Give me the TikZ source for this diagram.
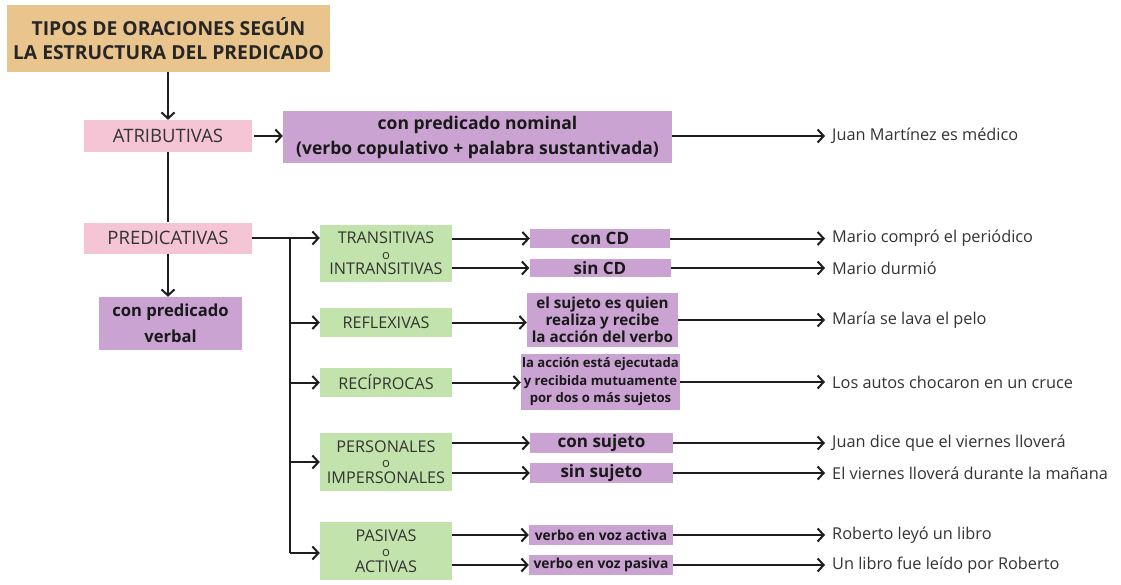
\documentclass[tikz,border=0pt]{standalone}
\usepackage{fontspec}
\setmainfont{Open Sans}
\usetikzlibrary{arrows.meta}
\definecolor{tanc}{HTML}{E9C48D}
\definecolor{pinkc}{HTML}{F5C5D6}
\definecolor{purc}{HTML}{CAA3D3}
\definecolor{grnc}{HTML}{C3E3AD}
\definecolor{txg}{HTML}{333333}
\definecolor{lnc}{HTML}{1E1E1E}
\tikzset{
  bx/.style={inner sep=0pt, align=center, anchor=center},
  titlebox/.style={bx, fill=tanc, font=\bfseries\fontsize{19.3}{24}\selectfont, text=black!85},
  pinkbox/.style={bx, fill=pinkc, minimum width=168pt, font=\fontsize{18.5}{20}\selectfont, text=txg},
  grnbox/.style={bx, fill=grnc, minimum width=132pt, font=\fontsize{16.2}{15.5}\selectfont, text=txg},
  purbox/.style={bx, fill=purc, font=\bfseries\fontsize{17}{18}\selectfont, text=black!90},
  ex/.style={anchor=west, inner xsep=7pt, inner ysep=0pt, font=\fontsize{16.3}{18}\selectfont, text=txg},
  arr/.style={draw=lnc, line width=2pt, -{Straight Barb[length=6pt,width=13pt]}},
  ln/.style={draw=lnc, line width=2pt}
}
\newcommand{\smallo}{{\fontsize{13}{13}\selectfont o}}
\begin{document}
\begin{tikzpicture}[x=1pt,y=-1pt]
\useasboundingbox[fill=white] (0,0) rectangle (1121,584);
% left column
\node[titlebox, minimum width=323pt, minimum height=67pt] (title) at (168.5,38.5) {TIPOS DE ORACIONES SEGÚN\\LA ESTRUCTURA DEL PREDICADO};
\node[pinkbox, minimum height=32pt] (atr) at (168,136) {ATRIBUTIVAS};
\node[pinkbox, minimum height=31pt] (pred) at (168,238) {PREDICATIVAS};
\node[purbox, minimum width=143pt, minimum height=53pt, font=\bfseries\fontsize{16.6}{26}\selectfont] (pv) at (170.5,323.5) {con predicado\\verbal};
\node[purbox, minimum width=389pt, minimum height=52pt, font=\bfseries\fontsize{17.5}{25}\selectfont] (nom) at (477.5,137) {con predicado nominal\\(verbo copulativo + palabra sustantivada)};
% green column
\node[grnbox, minimum height=57pt] (tr) at (386,253.5) {TRANSITIVAS\\\smallo\\INTRANSITIVAS};
\node[grnbox, minimum height=29pt] (refl) at (386,322.5) {REFLEXIVAS};
\node[grnbox, minimum height=29pt] (rec) at (386,382.5) {RECÍPROCAS};
\node[grnbox, minimum height=58pt] (pers) at (386,462) {PERSONALES\\\smallo\\IMPERSONALES};
\node[grnbox, minimum height=58pt] (pas) at (386,551) {PASIVAS\\\smallo\\ACTIVAS};
% purple column
\node[purbox, minimum width=140pt, minimum height=19pt] (cd) at (600,238.5) {con CD};
\node[purbox, minimum width=141pt, minimum height=18pt] (scd) at (600,268) {sin CD};
\node[purbox, minimum width=151pt, minimum height=54pt, font=\bfseries\fontsize{15.2}{17}\selectfont] (reflp) at (602.5,320) {el sujeto es quien\\realiza y recibe\\la acción del verbo};
\node[purbox, minimum width=159pt, minimum height=56pt, font=\bfseries\fontsize{13.1}{17.5}\selectfont] (recp) at (600.5,382) {la acción está ejecutada\\y recibida mutuamente\\por dos o más sujetos};
\node[purbox, minimum width=143pt, minimum height=20pt] (cs) at (601.5,443) {con sujeto};
\node[purbox, minimum width=143pt, minimum height=20pt] (ss) at (601.5,473) {sin sujeto};
\node[purbox, minimum width=144pt, minimum height=20pt, font=\bfseries\fontsize{13.8}{15}\selectfont] (va) at (601,535) {verbo en voz activa};
\node[purbox, minimum width=144pt, minimum height=20pt, font=\bfseries\fontsize{13.8}{15}\selectfont] (vp) at (601,565) {verbo en voz pasiva};
% examples
\node[ex] (e1) at (825,136) {Juan Martínez es médico};
\node[ex] (e2) at (825,238.5) {Mario compró el periódico};
\node[ex] (e3) at (825,268) {Mario durmió};
\node[ex] (e4) at (825,320) {María se lava el pelo};
\node[ex] (e5) at (825,382) {Los autos chocaron en un cruce};
\node[ex] (e6) at (825,443) {Juan dice que el viernes lloverá};
\node[ex] (e7) at (825,473) {El viernes lloverá durante la mañana};
\node[ex] (e8) at (825,535) {Roberto leyó un libro};
\node[ex] (e9) at (825,565) {Un libro fue leído por Roberto};
% connectors left
\draw[arr] (atr.north |- title.south) -- (atr.north);
\draw[arr, shorten <=2pt] (atr.east) -- (nom.west |- atr.east);
\draw[ln] (atr.south) -- (pred.north);
\draw[arr] (pred.south) -- (pred.south |- pv.north);
% trunk
\coordinate (j1) at (290,238);
\coordinate (j2) at (290,322.5);
\coordinate (j3) at (290,382.5);
\coordinate (j4) at (290,462);
\coordinate (j5) at (290,553);
\draw[ln] (pred.east) -- (j1) -- (j5);
\draw[arr] (j1) -- (tr.west |- j1);
\draw[arr] (j2) -- (refl.west);
\draw[arr] (j3) -- (rec.west);
\draw[arr] (j4) -- (pers.west);
\draw[arr] (j5) -- (pas.west |- j5);
% green to purple
\draw[arr] (tr.east |- cd.west) -- (cd.west);
\draw[arr] (tr.east |- scd.west) -- (scd.west);
\draw[arr] (refl.east) -- (reflp.west |- refl.east);
\draw[arr] (rec.east) -- (recp.west |- rec.east);
\draw[arr] (pers.east |- cs.west) -- (cs.west);
\draw[arr] (pers.east |- ss.west) -- (ss.west);
\draw[arr] (pas.east |- va.west) -- (va.west);
\draw[arr] (pas.east |- vp.west) -- (vp.west);
% purple to examples
\draw[arr] (nom.east |- e1.west) -- (e1.west);
\draw[arr] (cd.east) -- (e2.west);
\draw[arr] (scd.east) -- (e3.west);
\draw[arr] (reflp.east) -- (e4.west);
\draw[arr] (recp.east) -- (e5.west);
\draw[arr] (cs.east) -- (e6.west);
\draw[arr] (ss.east) -- (e7.west);
\draw[arr] (va.east) -- (e8.west);
\draw[arr] (vp.east) -- (e9.west);
\end{tikzpicture}
\end{document}
